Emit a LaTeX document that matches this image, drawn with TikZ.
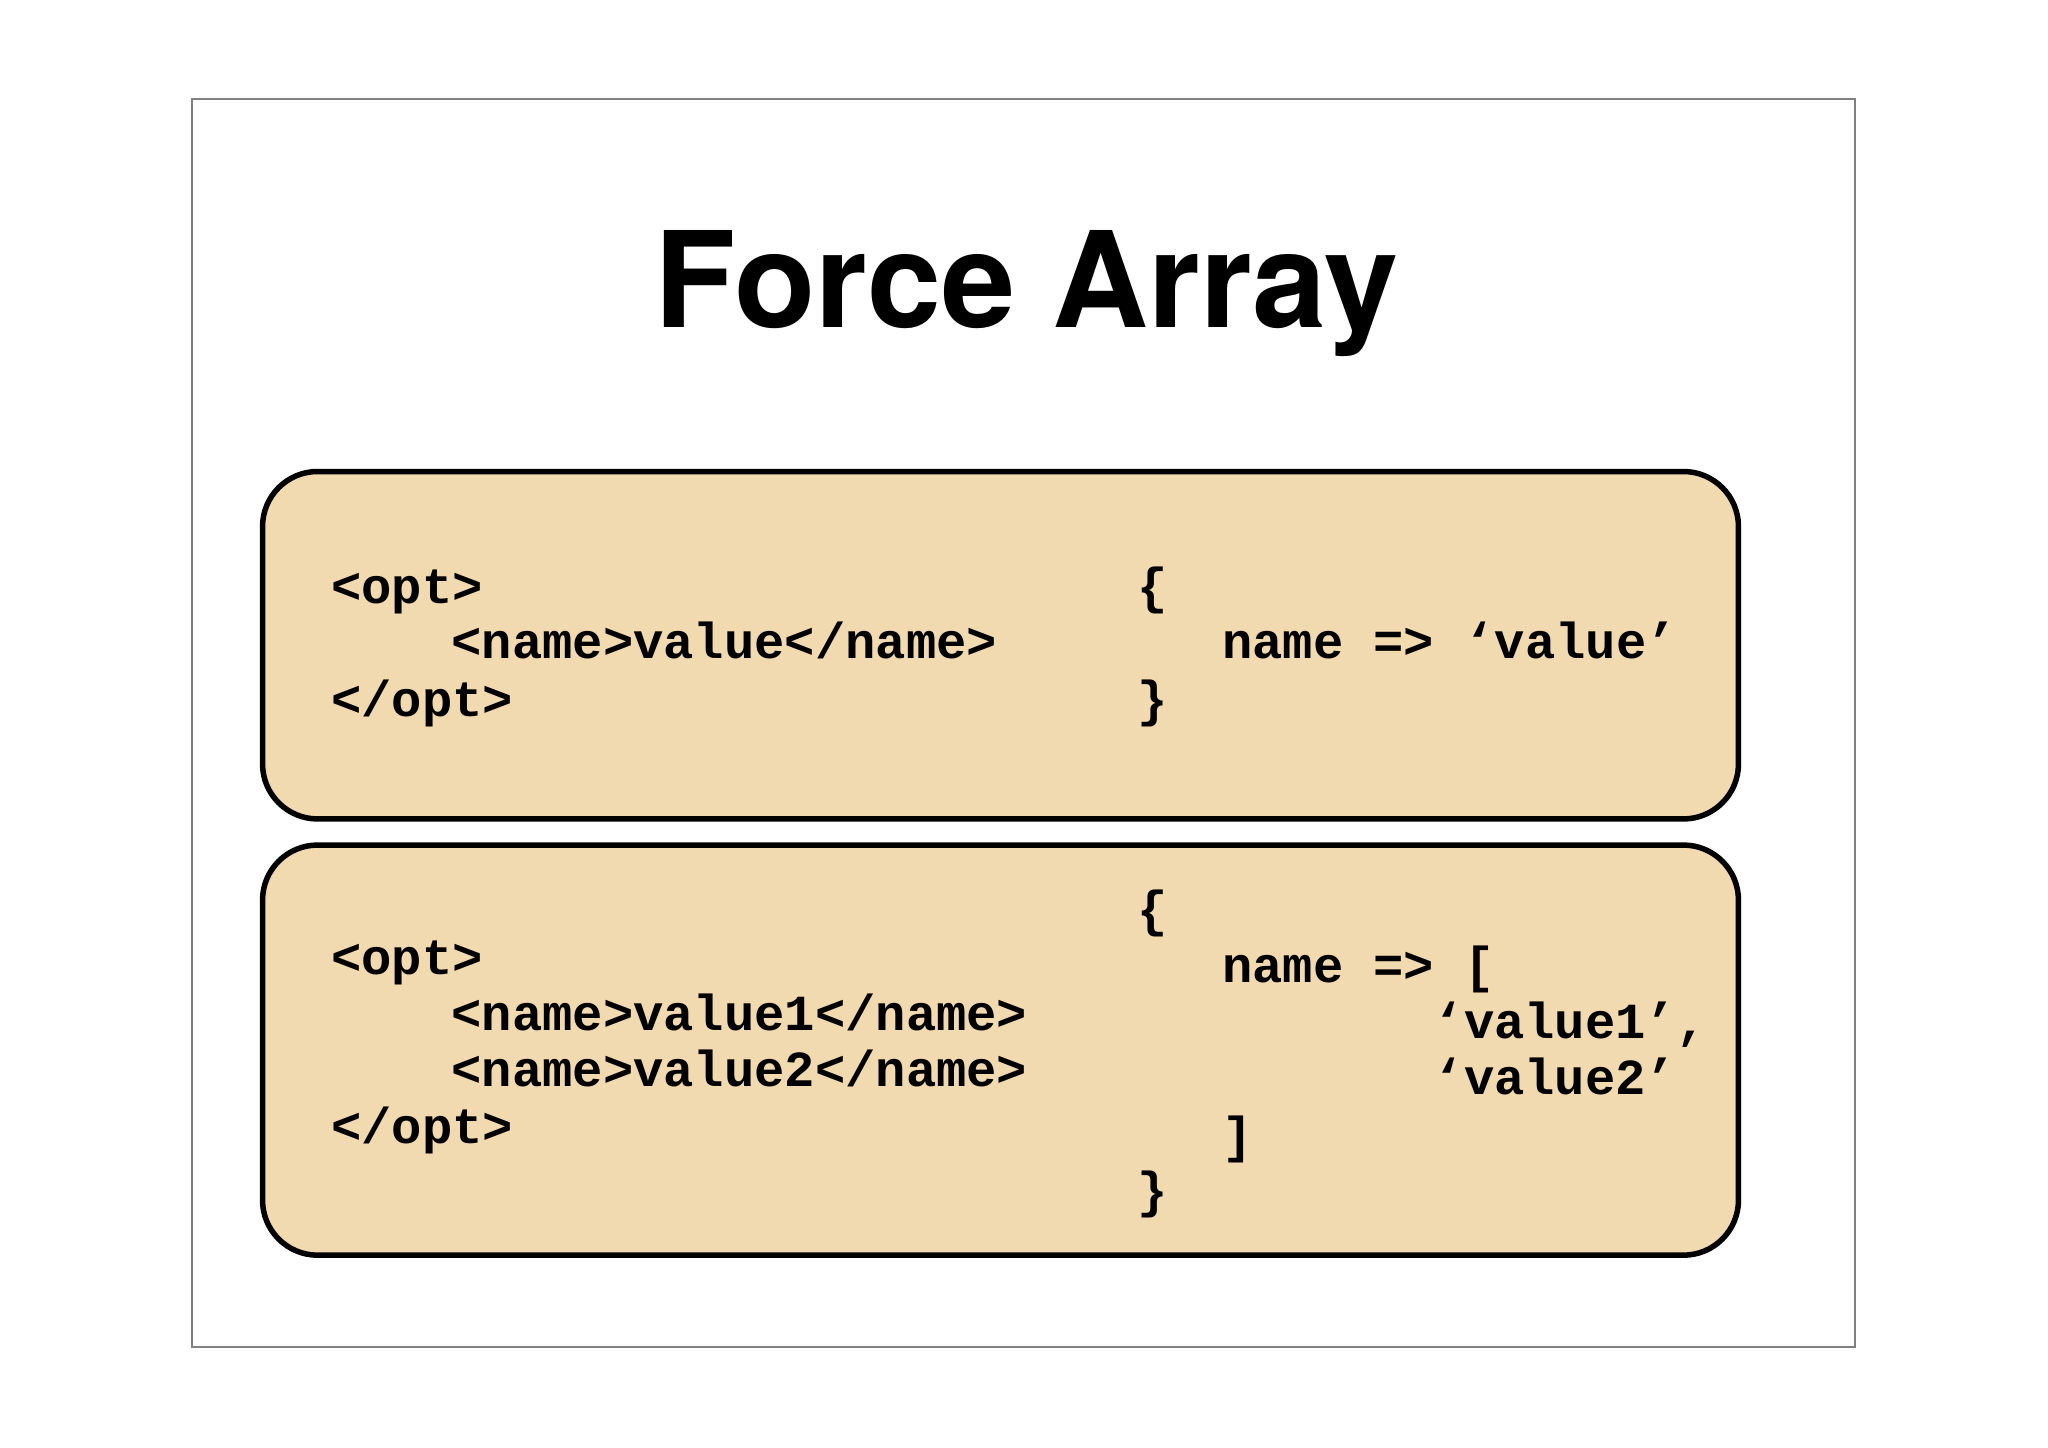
\documentclass[tikz,border=0pt]{standalone}
\usepackage{fontspec}
\setmainfont{TeX Gyre Heros}
\setmonofont{Liberation Mono}
\definecolor{boxfill}{HTML}{F2DAB0}
\tikzset{
    codebox/.style={draw=black, line width=1.2pt, fill=boxfill, rounded corners=12pt},
    code/.style={anchor=mid west, inner sep=0pt, font=\ttfamily\bfseries\fontsize{11}{13}\selectfont}
}
\begin{document}
\begin{tikzpicture}
    \useasboundingbox (0, 0) rectangle (15.68, 11.08);
    % Slide frame and title
    \draw[gray, line width=0.4pt] (1.47, 0.77) rectangle (14.20, 10.32);
    \node (title) at (7.86, 8.83) {\fontsize{29}{34}\selectfont\bfseries Force Array};

    % Boxes
    \draw[codebox] (2.01, 4.81) rectangle (13.31, 7.47);
    \draw[codebox] (2.01, 1.47) rectangle (13.31, 4.61);

    % Single value
    \node[code] (optA) at (2.53, 6.55) {<opt>};
    \node[code] (nameA) at (3.45, 6.13) {<name>value</name>};
    \node[code] (endA) at (2.53, 5.69) {</opt>};
    \node[code] (openA) at (8.70, 6.55) {\{};
    \node[code] (hashA) at (9.35, 6.13) {name => ‘value’};
    \node[code] (closeA) at (8.70, 5.69) {\}};

    % Two values
    \node[code] (optB) at (2.53, 3.71) {<opt>};
    \foreach \y/\v in {3.28/1, 2.85/2}
        \node[code] (nameB\v) at (3.45, \y) {<name>value\v</name>};
    \node[code] (endB) at (2.53, 2.42) {</opt>};
    \node[code] (openB) at (8.70, 4.08) {\{};
    \node[code] (hashB) at (9.35, 3.65) {name => [};
    \node[code] (valB1) at (10.97, 3.22) {‘value1’,};
    \node[code] (valB2) at (10.97, 2.79) {‘value2’};
    \node[code] (brB) at (9.35, 2.35) {]};
    \node[code] (closeB) at (8.70, 1.93) {\}};
\end{tikzpicture}
\end{document}
